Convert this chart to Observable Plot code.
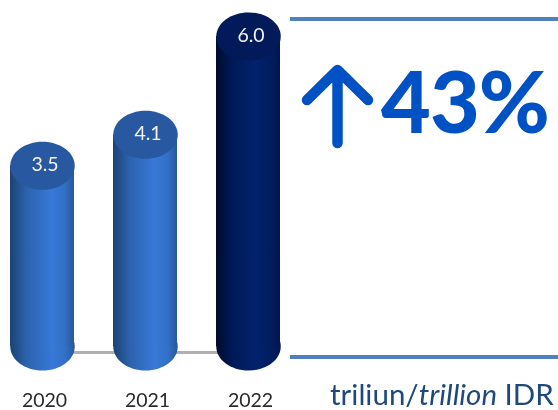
<!DOCTYPE html>
<html>
<head>
<meta charset="utf-8">
<script src="https://cdn.jsdelivr.net/npm/d3@7"></script>
<script src="https://cdn.jsdelivr.net/npm/@observablehq/plot@0.6"></script>
<style>
html,body{margin:0;padding:0;background:#fff;overflow:hidden}
#wrap{position:relative;width:558px;height:410px;font-family:Lato,"Liberation Sans",sans-serif;filter:blur(0.35px)}
#wrap>svg{display:block;position:absolute;left:0;top:0;background:transparent}
#panel{position:absolute;left:290px;top:17px;width:268px;height:334px;border-top:4px solid #4f81bd;border-bottom:4px solid #4f81bd}
#arrow{position:absolute;left:10px;top:42px;width:80px;height:90px;overflow:visible}
#pct{position:absolute;left:91px;top:29px;font:900 86px Lato;color:#0052c4;line-height:100px;letter-spacing:-1px}
#unit{position:absolute;left:330px;top:377px;font:29.5px Lato;color:#1f497d;line-height:34px;white-space:nowrap}
</style>
</head>
<body>
<div id="wrap">
<div id="panel">
<svg id="arrow" viewBox="0 0 80 90" aria-label="↑"><path d="M37.5 80V8M7 37L37.5 7L68 37" fill="none" stroke="#0052c4" stroke-width="10.5" stroke-linecap="round" stroke-linejoin="round"/></svg>
<div id="pct">43%</div></div>
<div id="unit">triliun/<i>trillion</i> IDR</div>
</div>
<script>
const years = ["2020", "2021", "2022"];
const values = [3.5, 4.1, 6.0];
const labels = ["3.5", "4.1", "6.0"];
const capColors = ["#28589f", "#28589f", "#021a5a"];
const bodyFills = ["url(#light)", "url(#light)", "url(#dark)"];
const rows = years.map((year, i) => ({year, value: values[i], label: labels[i], cap: capColors[i], body: bodyFills[i]}));

const ellipse = {
  draw(ctx, size) {
    const rx = Math.sqrt(size / Math.PI), ry = rx * 0.745, k = 0.5523;
    ctx.moveTo(rx, 0);
    ctx.bezierCurveTo(rx, k * ry, k * rx, ry, 0, ry);
    ctx.bezierCurveTo(-k * rx, ry, -rx, k * ry, -rx, 0);
    ctx.bezierCurveTo(-rx, -k * ry, -k * rx, -ry, 0, -ry);
    ctx.bezierCurveTo(k * rx, -ry, rx, -k * ry, rx, 0);
    ctx.closePath();
  }
};

function gradients() {
  const defs = d3.create("svg:defs");
  const make = (id, stops) => {
    const g = defs.append("linearGradient").attr("id", id).attr("x1", 0).attr("x2", 1).attr("y1", 0).attr("y2", 0);
    stops.forEach(([o, c]) => g.append("stop").attr("offset", o).attr("stop-color", c));
  };
  make("light", [[0, "#1c4272"], [0.25, "#2c62ac"], [0.65, "#3779d8"], [0.85, "#3370c6"], [1, "#28589a"]]);
  make("dark", [[0, "#000a2c"], [0.25, "#011a56"], [0.6, "#02226e"], [0.85, "#011d60"], [1, "#01164c"]]);
  return defs.node();
}

const chart = Plot.plot({
  width: 558,
  height: 410,
  marginLeft: 0, marginRight: 0, marginTop: 0, marginBottom: 30,
  x: {domain: years, range: [9.5, 281], paddingInner: 0.377, paddingOuter: 0, label: null},
  y: {domain: [0, 6], range: [346, 36], axis: null},
  style: {background: "transparent", fontFamily: "Lato"},
  marks: [
    gradients,
    Plot.line(rows, {x: "year", y: () => 0, dy: 6, stroke: "#b0b0b0", strokeWidth: 3}),
    Plot.dot(rows, {x: "year", y: () => 0, r: 32.25, symbol: ellipse, fill: "body", stroke: null}),
    Plot.barY(rows, {x: "year", y1: () => 0, y2: "value", fill: "body"}),
    Plot.dot(rows, {x: "year", y: "value", r: 32.25, symbol: ellipse, fill: "cap", stroke: null}),
    Plot.text(rows, {x: "year", y: "value", text: "label", fill: "#f2f2f2", fontSize: 19.5, dx: 2.5, dy: -1}),
    Plot.axisX({tickSize: 0, tickPadding: 13, dx: 2, fontSize: 19.5, color: "#2a2a2a", label: null, anchor: "bottom"})
  ]
});
document.getElementById("wrap").prepend(chart);
</script>
</body>
</html>
